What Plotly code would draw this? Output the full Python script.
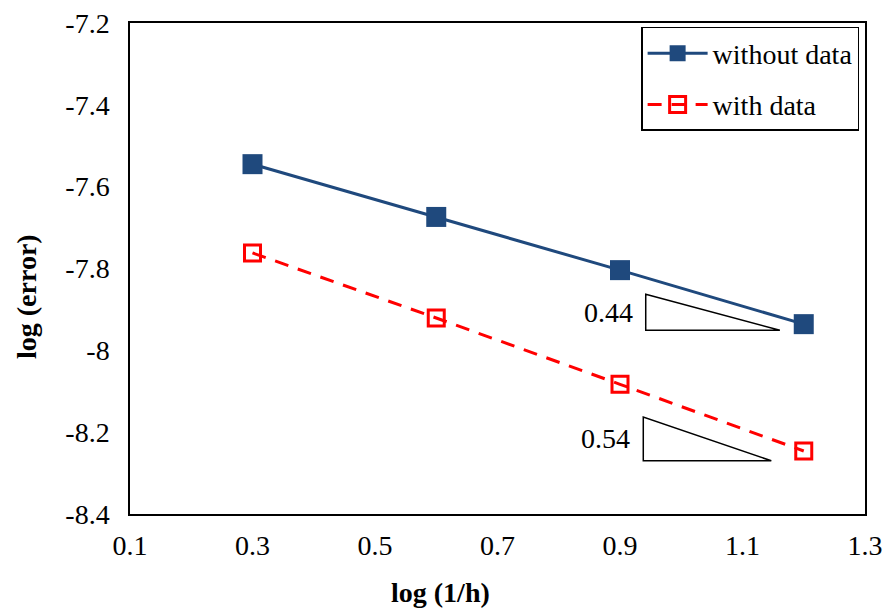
import plotly.graph_objects as go

x_vals = [0.3, 0.6, 0.9, 1.2]
without_data = [-7.545, -7.674, -7.804, -7.936]
with_data = [-7.762, -7.921, -8.083, -8.246]

x_ticks = [0.1, 0.3, 0.5, 0.7, 0.9, 1.1, 1.3]
x_ticklabels = ["0.1", "0.3", "0.5", "0.7", "0.9", "1.1", "1.3"]
y_ticks = [-7.2, -7.4, -7.6, -7.8, -8.0, -8.2, -8.4]
y_ticklabels = ["-7.2", "-7.4", "-7.6", "-7.8", "-8", "-8.2", "-8.4"]

# slope triangles: (x_left, x_right, y_top, y_bottom), labels
tri_upper = [0.942, 1.161, -7.863, -7.951]
tri_lower = [0.938, 1.147, -8.163, -8.270]
slope_labels = ["0.44", "0.54"]

FONT = "Liberation Serif, serif"
FS = 28
BLUE = "#1F497D"
RED = "#FF0000"

W, H = 886, 609
L, R, T, B = 130, 21, 23, 95
pw, ph = W - L - R, H - T - B

fig = go.Figure()
fig.add_trace(go.Scatter(
    x=x_vals, y=without_data, mode="lines+markers", name="without data",
    legendgroup="a",
    line=dict(color=BLUE, width=3),
    marker=dict(symbol="square", size=20, color=BLUE),
))
fig.add_trace(go.Scatter(
    x=x_vals, y=with_data, mode="lines+markers", name="with data",
    legendgroup="b",
    line=dict(color=RED, width=3, dash="14px,10px"),
    marker=dict(symbol="square-open", size=16, color=RED, line=dict(width=3, color=RED)),
))

for tri, lab in zip([tri_upper, tri_lower], slope_labels):
    xl, xr, yt, yb = tri
    fig.add_shape(type="path", xref="x", yref="y",
                  path=f"M {xl} {yt} L {xl} {yb} L {xr} {yb} Z",
                  line=dict(color="black", width=1.5), fillcolor="rgba(0,0,0,0)")
    fig.add_annotation(x=xl, y=(yt + yb) / 2, xref="x", yref="y", text=lab,
                       showarrow=False, xanchor="right", xshift=-11,
                       font=dict(family=FONT, size=FS, color="black"))

# axis titles (positions given in pixels, converted to paper coords)
def px_to_paper(px, py):
    return (px - L) / pw, (H - B - py) / ph

tx, ty = px_to_paper(440, 592)
fig.add_annotation(x=tx, y=ty, xref="paper", yref="paper", text="<b>log (1/h)</b>",
                   showarrow=False, xanchor="center", yanchor="middle",
                   font=dict(family=FONT, size=FS, color="black"))
tx, ty = px_to_paper(26, 296)
fig.add_annotation(x=tx, y=ty, xref="paper", yref="paper", text="<b>log (error)</b>",
                   textangle=-90, showarrow=False, xanchor="center", yanchor="middle",
                   font=dict(family=FONT, size=FS, color="black"))

tickfont = dict(family=FONT, size=FS, color="black")

fig.update_layout(
    width=W, height=H,
    margin=dict(l=L, r=R, t=T, b=B, autoexpand=False),
    paper_bgcolor="white", plot_bgcolor="white",
    font=dict(family=FONT, size=FS, color="black"),
    showlegend=True,
    legend=dict(x=0.992, y=0.992, xanchor="right", yanchor="top",
                bordercolor="black", borderwidth=1.5, bgcolor="white",
                font=dict(family=FONT, size=FS, color="black"),
                itemwidth=60, tracegroupgap=12),
    xaxis=dict(range=[0.1, 1.3], tickvals=x_ticks, ticktext=x_ticklabels,
               tickfont=tickfont,
               showgrid=False, zeroline=False, showline=True, mirror=True,
               linecolor="black", linewidth=1.5, ticks="outside", ticklen=6,
               tickcolor="rgba(0,0,0,0)", automargin=False),
    yaxis=dict(range=[-8.4, -7.2], tickvals=y_ticks, ticktext=y_ticklabels,
               tickfont=tickfont,
               showgrid=False, zeroline=False, showline=True, mirror=True,
               linecolor="black", linewidth=1.5, ticks="outside", ticklen=13,
               tickcolor="rgba(0,0,0,0)", automargin=False),
)

fig.write_html("out.html", config={"displayModeBar": False},
               post_script="document.body.style.margin='0px';document.body.style.padding='0px';")
